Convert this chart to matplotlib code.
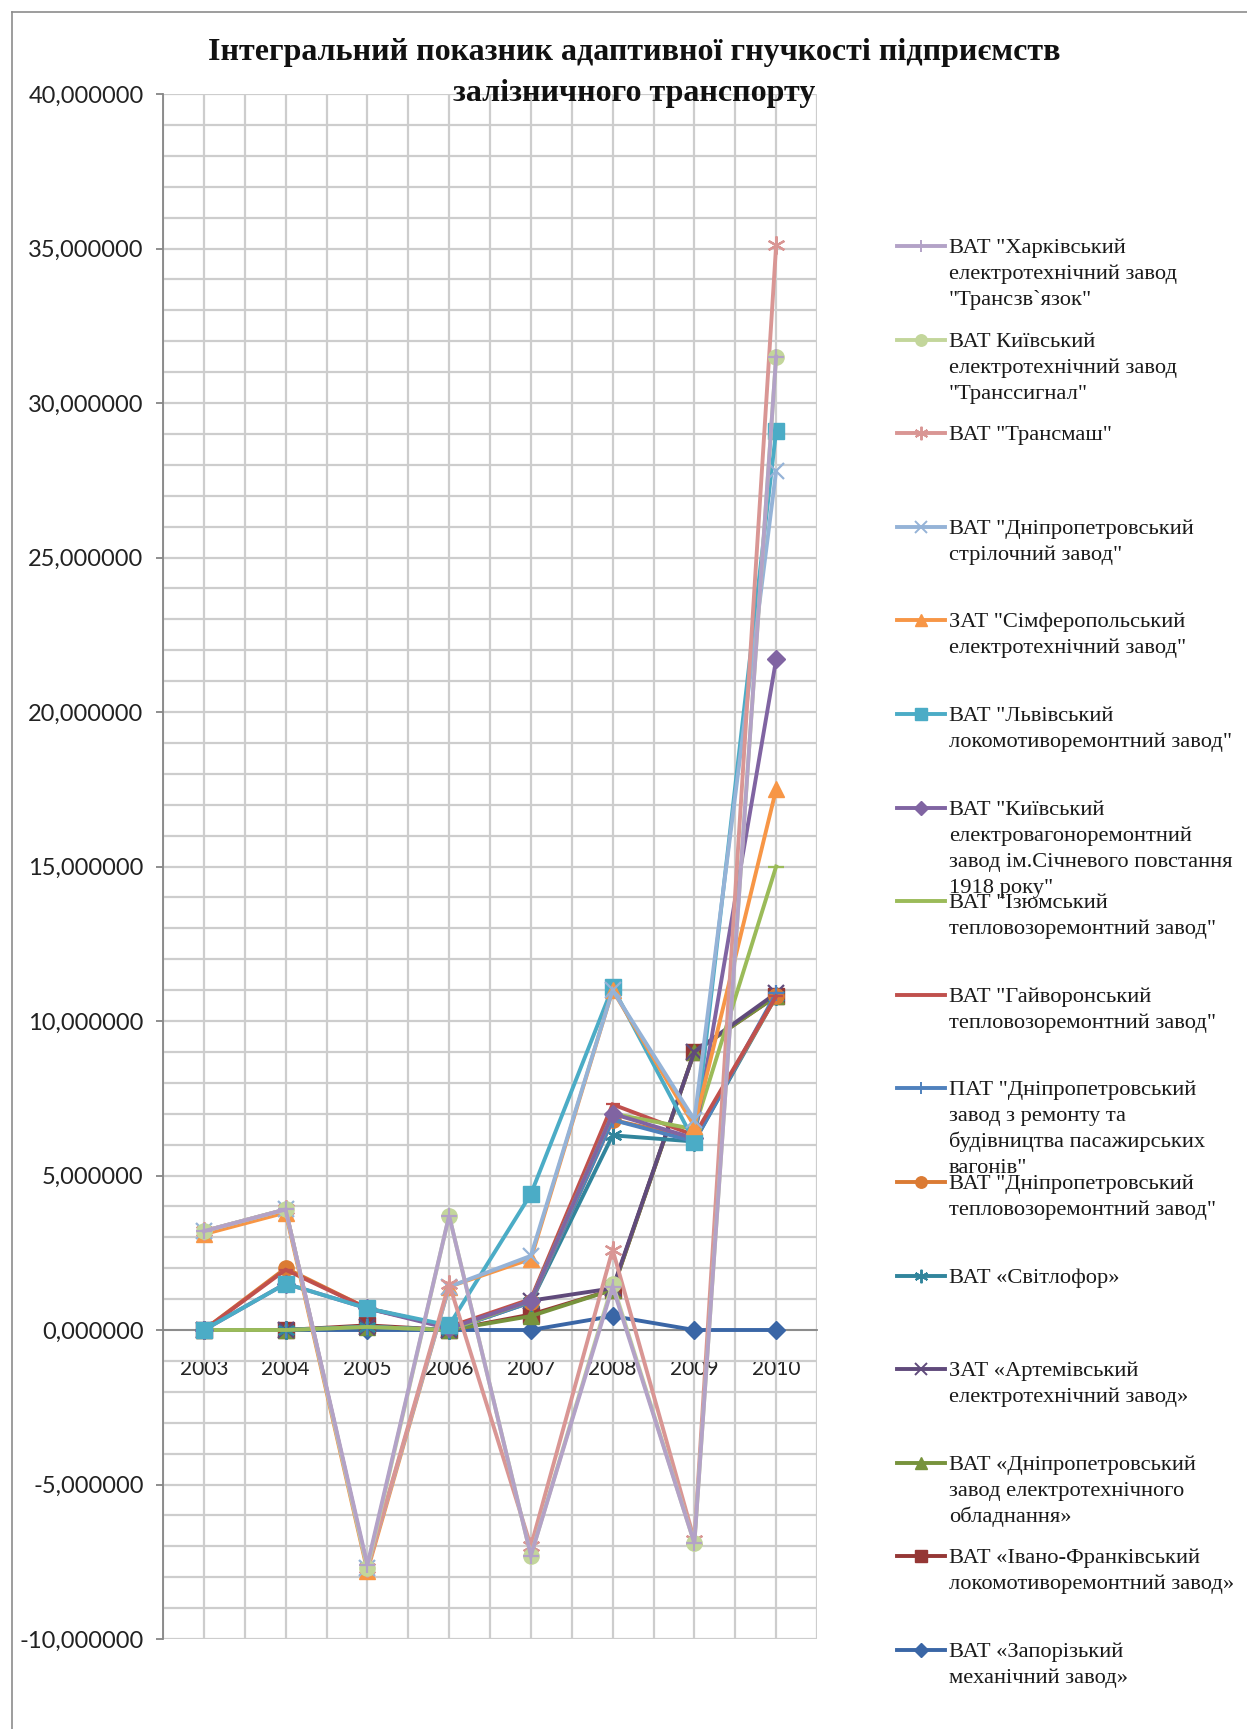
import numpy as np
import matplotlib
matplotlib.use("Agg")
import matplotlib.pyplot as plt
from matplotlib.lines import Line2D
from matplotlib.ticker import FixedLocator, FuncFormatter

W, H = 1247, 1729

# ---------------- data ----------------
years = [2003, 2004, 2005, 2006, 2007, 2008, 2009, 2010]
year_labels = ["2003", "2004", "2005", "2006", "2007", "2008", "2009", "2010"]

s01_kharkiv_transzvyazok = [3.2, 3.9, -7.6, 3.7, -7.3, 1.4, -6.9, 31.5]
s02_kyiv_transsygnal = [3.2, 3.9, -7.7, 3.7, -7.3, 1.5, -6.9, 31.5]
s03_transmash = [3.2, 3.9, -7.7, 1.5, -7.0, 2.6, -6.8, 35.1]
s04_dnipro_strilochnyi = [3.2, 3.9, -7.7, 1.4, 2.4, 11.0, 6.8, 27.8]
s05_simferopol = [3.1, 3.8, -7.8, 1.4, 2.3, 11.0, 6.6, 17.5]
s06_lviv_lokomotyv = [0.0, 1.5, 0.7, 0.15, 4.4, 11.1, 6.1, 29.1]
s07_kyiv_elektrovagon = [0.0, 1.5, 0.7, 0.05, 0.95, 7.0, 6.2, 21.7]
s08_izium = [0.0, 0.0, 0.1, 0.0, 0.95, 7.0, 6.5, 15.0]
s09_haivoron = [0.0, 1.95, 0.7, 0.1, 1.0, 7.3, 6.3, 10.8]
s10_pat_dnipro_vagon = [0.0, 0.0, 0.1, 0.0, 0.9, 6.8, 6.1, 10.9]
s11_dnipro_teplovoz = [0.0, 2.0, 0.7, 0.1, 0.9, 6.8, 6.2, 10.8]
s12_svitlofor = [0.0, 0.0, 0.1, 0.0, 0.9, 6.3, 6.1, 10.8]
s13_artemivsk = [0.0, 0.0, 0.1, 0.0, 0.95, 1.35, 9.0, 10.9]
s14_dnipro_elektroobl = [0.0, 0.0, 0.1, 0.0, 0.45, 1.3, 9.0, 10.8]
s15_ivano_frankivsk = [0.0, 0.0, 0.15, 0.0, 0.5, 1.3, 9.0, 10.8]
s16_zaporizh = [0.0, 0.0, 0.0, 0.0, 0.0, 0.45, 0.0, 0.0]

series_values = [
    s01_kharkiv_transzvyazok, s02_kyiv_transsygnal, s03_transmash,
    s04_dnipro_strilochnyi, s05_simferopol, s06_lviv_lokomotyv,
    s07_kyiv_elektrovagon, s08_izium, s09_haivoron, s10_pat_dnipro_vagon,
    s11_dnipro_teplovoz, s12_svitlofor, s13_artemivsk,
    s14_dnipro_elektroobl, s15_ivano_frankivsk, s16_zaporizh,
]

series_names = [
    'ВАТ "Харківський\nелектротехнічний завод\n"Трансзв`язок"',
    'ВАТ Київський\nелектротехнічний завод\n"Транссигнал"',
    'ВАТ "Трансмаш"',
    'ВАТ "Дніпропетровський\nстрілочний завод"',
    'ЗАТ "Сімферопольський\nелектротехнічний завод"',
    'ВАТ "Львівський\nлокомотиворемонтний завод"',
    'ВАТ "Київський\nелектровагоноремонтний\nзавод ім.Січневого повстання\n1918 року"',
    'ВАТ "Ізюмський\nтепловозоремонтний завод"',
    'ВАТ "Гайворонський\nтепловозоремонтний завод"',
    'ПАТ "Дніпропетровський\nзавод з ремонту та\nбудівництва пасажирських\nвагонів"',
    'ВАТ "Дніпропетровський\nтепловозоремонтний завод"',
    'ВАТ «Світлофор»',
    'ЗАТ «Артемівський\nелектротехнічний завод»',
    'ВАТ «Дніпропетровський\nзавод електротехнічного\nобладнання»',
    'ВАТ «Івано-Франківський\nлокомотиворемонтний завод»',
    'ВАТ «Запорізький\nмеханічний завод»',
]

y_major = [-10, -5, 0, 5, 10, 15, 20, 25, 30, 35, 40]

title_lines = ["Інтегральний показник адаптивної гнучкості підприємств",
               "залізничного транспорту"]

# ---------------- styles ----------------
colors = ["#B3A2C7", "#C3D69B", "#D99694", "#95B3D7", "#F79646", "#4BACC6",
          "#8064A2", "#9BBB59", "#C0504D", "#4F81BD", "#DB7B34", "#31859C",
          "#604A7B", "#77933C", "#953735", "#3A66A6"]
ASTER = (6, 2, 0)
markers = ["+", "o", ASTER, "x", "^", "s", "D", "_", "_", "+", "o", ASTER,
           "x", "^", "s", "D"]
msizes = [12, 11, 13, 11, 11, 11, 9, 12, 10, 12, 11, 13, 11, 11, 11, 9]

def fx(px):
    return px / W

def fy(py):
    return 1 - py / H

fig = plt.figure(figsize=(W / 100, H / 100), dpi=100)
fig.patch.set_facecolor("white")

# outer border (top & left)
fig.add_artist(Line2D([fx(12), fx(1247)], [fy(12), fy(12)], color="#8C8C8C", lw=1.2))
fig.add_artist(Line2D([fx(12), fx(12)], [fy(12), fy(1729)], color="#8C8C8C", lw=1.2))

ax_l, ax_r, ax_t, ax_b = 163, 817, 94, 1639
ax = fig.add_axes([fx(ax_l), fy(ax_b), fx(ax_r - ax_l), (ax_b - ax_t) / H])
ax.set_facecolor("white")
ax.set_xlim(years[0] - 0.5, years[-1] + 0.5)
ax.set_ylim(y_major[0], y_major[-1])

grid_c = "#CDCDCD"
ax.set_axisbelow(True)
ax.yaxis.set_major_locator(FixedLocator(y_major))
ax.yaxis.set_minor_locator(FixedLocator(np.arange(y_major[0], y_major[-1] + 1, 1)))
ax.xaxis.set_major_locator(FixedLocator(years))
ax.xaxis.set_minor_locator(FixedLocator(np.arange(years[0] - 0.5, years[-1] + 0.6, 0.5)))
ax.grid(True, which="both", color=grid_c, lw=1.6)

ax.yaxis.set_major_formatter(FuncFormatter(lambda v, p: f"{v:.6f}".replace(".", ",")))
ax.set_xticklabels(year_labels)

for sp in ["top", "right"]:
    ax.spines[sp].set_visible(False)
ax.spines["left"].set_color("#868686")
ax.spines["left"].set_linewidth(1.3)
ax.spines["bottom"].set_position(("data", 0))
ax.spines["bottom"].set_color("#868686")
ax.spines["bottom"].set_linewidth(1.3)

ax.tick_params(axis="y", which="major", length=5, width=1.3, color="#868686",
               pad=9, labelsize=17, labelfontfamily="Lato", labelcolor="#222222")
ax.tick_params(axis="y", which="minor", length=0)
ax.tick_params(axis="x", which="both", length=0, pad=21, labelsize=15,
               labelfontfamily="Lato", labelcolor="#222222")

n = len(series_values)
for i, vals in enumerate(series_values):
    m = markers[i]
    filled = m in ("o", "^", "s", "D")
    ax.plot(years, vals, color=colors[i], lw=2.8, marker=m, ms=msizes[i],
            mfc=colors[i], mec=colors[i], mew=1.0 if filled else 1.6,
            zorder=10 + (n - i), clip_on=False, solid_joinstyle="miter")

# title
fig.text(fx(634), fy(60), title_lines[0], ha="center", va="baseline",
         family="Liberation Serif", weight="bold", fontsize=23, color="#111111")
fig.text(fx(634), fy(101), title_lines[1], ha="center", va="baseline",
         family="Liberation Serif", weight="bold", fontsize=23, color="#111111")

# legend
leg_y0, leg_dy = 246, 93.6
pitch = 26.0
for i, name in enumerate(series_names):
    yc = leg_y0 + i * leg_dy
    m = markers[i]
    filled = m in ("o", "^", "s", "D")
    fig.add_artist(Line2D([fx(897), fx(945)], [fy(yc), fy(yc)], color=colors[i], lw=2.8))
    fig.add_artist(Line2D([fx(921)], [fy(yc)], color=colors[i], lw=0, marker=m,
                          ms=msizes[i] * 0.75, mfc=colors[i], mec=colors[i],
                          mew=1.0 if filled else 1.4))
    for j, line in enumerate(name.split("\n")):
        fig.text(fx(949), fy(yc + 7 + j * pitch), line, ha="left", va="baseline",
                 family="Liberation Serif", fontsize=16.2, color="#1A1A1A")

fig.savefig("out.png", dpi=100, facecolor="white")
